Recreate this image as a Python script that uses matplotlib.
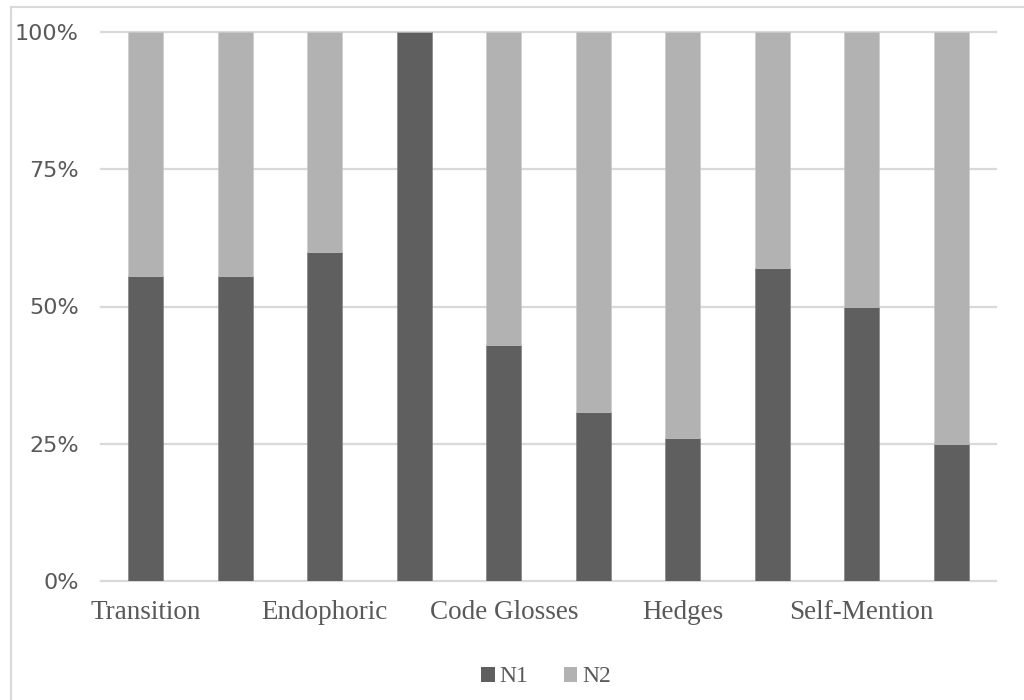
import matplotlib
matplotlib.use("Agg")
import matplotlib.pyplot as plt
from matplotlib.patches import Patch
from matplotlib.lines import Line2D

# Metadiscourse categories (Excel skips every other label on the axis)
categories = [
    "Transition", "Frame Markers", "Endophoric", "Evidentials", "Code Glosses",
    "Boosters", "Hedges", "Attitude Markers", "Self-Mention", "Engagement Markers",
]
# share of occurrences per group, in percent
n1_pct = [55.6, 55.6, 60.0, 100.0, 42.9, 30.8, 26.1, 57.1, 50.0, 25.0]
n2_pct = [100 - v for v in n1_pct]
y_ticks = [0, 25, 50, 75, 100]

DARK = "#5f5f5f"
LIGHT = "#b2b2b2"
GRID = "#d9d9d9"
TEXT = "#595959"

fig = plt.figure(figsize=(10.24, 7.0), dpi=100)
ax = fig.add_axes([101 / 1024, 119 / 700, 895 / 1024, 549 / 700])

x = list(range(len(categories)))
ax.bar(x, n1_pct, width=0.39, color=DARK, edgecolor="#7a7a7a", linewidth=0.4, zorder=3)
ax.bar(x, n2_pct, width=0.39, bottom=n1_pct, color=LIGHT, edgecolor="#c8c8c8",
       linewidth=0.4, zorder=3)

ax.set_xlim(-0.5, len(categories) - 0.5)
ax.set_ylim(0, 100)

# horizontal gridlines, including the one on top of the plot area
for t in y_ticks:
    ax.axhline(t, color=GRID, linewidth=1.6, zorder=1, clip_on=False)

ax.set_yticks(y_ticks)
ax.set_yticklabels([f"{t}%" for t in y_ticks], fontsize=16, color=TEXT,
                   family="DejaVu Sans")
ax.set_xticks(x[::2])
ax.set_xticklabels(categories[::2], fontsize=19.5, color=TEXT, family="Liberation Serif")
ax.tick_params(axis="y", length=0, pad=16)
ax.tick_params(axis="x", length=0, pad=14)
for s in ax.spines.values():
    s.set_visible(False)

# legend below the plot
handles = [Patch(facecolor=DARK, edgecolor="none", label="N1"),
           Patch(facecolor=LIGHT, edgecolor="none", label="N2")]
fig.legend(handles=handles, loc="center", bbox_to_anchor=(546 / 1024, 1 - 677 / 700),
           ncol=2, frameon=False, prop={"family": "Liberation Serif", "size": 17},
           labelcolor=TEXT, handlelength=0.58, handleheight=0.58,
           handletextpad=0.2, columnspacing=1.5)

# light chart-area frame along the top and left edge
fig.add_artist(Line2D([11 / 1024, 11 / 1024], [0, 1 - 7 / 700], color=GRID, linewidth=1.5,
                      transform=fig.transFigure))
fig.add_artist(Line2D([11 / 1024, 1], [1 - 7 / 700, 1 - 7 / 700], color=GRID, linewidth=1.5,
                      transform=fig.transFigure))

fig.savefig("out.png", dpi=100)
